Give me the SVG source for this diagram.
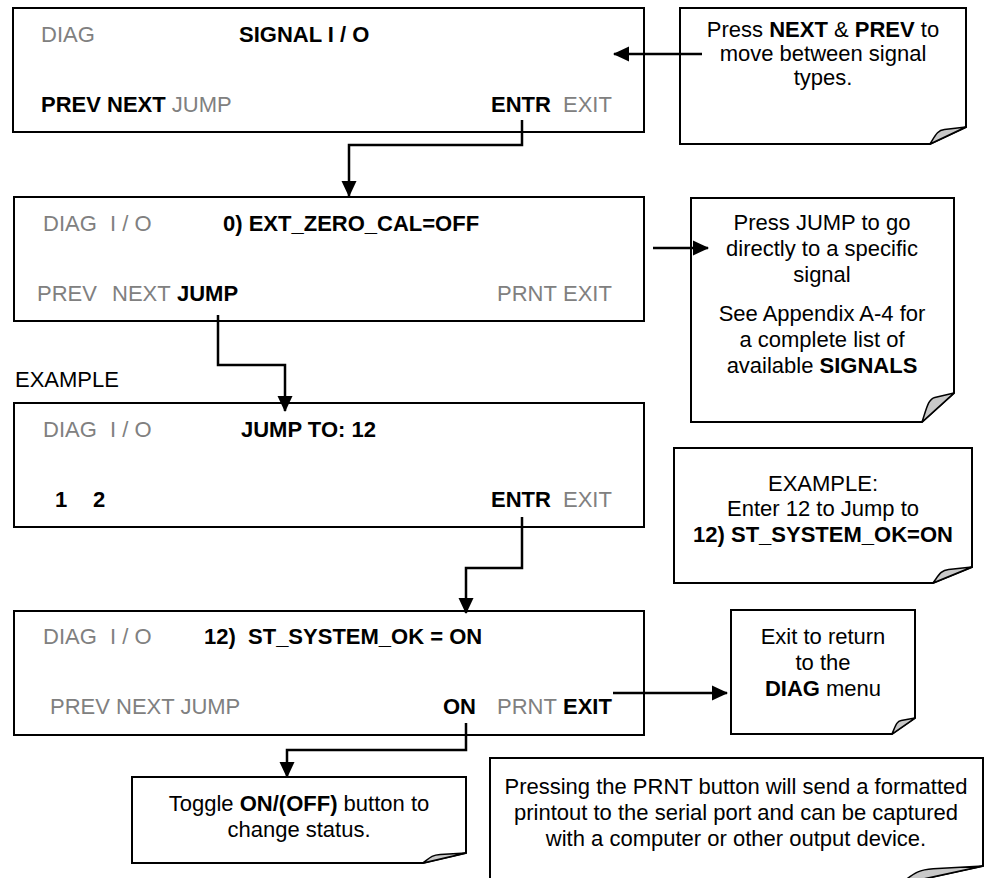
<svg xmlns="http://www.w3.org/2000/svg" width="985" height="878" viewBox="0 0 985 878">
<defs>
<style>
text{font-family:"Liberation Sans",Arial,sans-serif;font-size:22px;fill:#000;white-space:pre}
.g{fill:#808080}
.b{font-weight:bold}
.c{text-anchor:middle}
.box{fill:#fff;stroke:#000;stroke-width:2}
.note{fill:#fff;stroke:#000;stroke-width:2;stroke-linejoin:miter}
.fold{fill:#c8c8c8;stroke:#000;stroke-width:1.5;stroke-linejoin:round}
.conn{fill:none;stroke:#000;stroke-width:2.5}
</style>
<marker id="ah" markerUnits="userSpaceOnUse" markerWidth="16" markerHeight="16" viewBox="0 0 16 16" refX="15" refY="8" orient="auto">
<path d="M0,0.5 L16,8 L0,15.5 Z" fill="#000"/>
</marker>
</defs>
<rect width="985" height="878" fill="#fff"/>

<g id="screen1">
<rect class="box" x="13" y="8" width="631" height="124"/>
<text x="41" y="42" class="g">DIAG</text>
<text x="239" y="42" class="b">SIGNAL I / O</text>
<text x="41" y="112"><tspan class="b">PREV NEXT</tspan><tspan class="g"> JUMP</tspan></text>
<text x="491" y="112" class="b">ENTR</text>
<text x="563" y="112" class="g">EXIT</text>
</g>

<g id="screen2">
<rect class="box" x="14" y="197" width="630" height="124"/>
<text x="43" y="231" class="g">DIAG</text>
<text x="110" y="231" class="g">I / O</text>
<text x="223" y="231" class="b">0) EXT_ZERO_CAL=OFF</text>
<text x="37" y="301" class="g">PREV</text>
<text x="112" y="301" class="g">NEXT</text>
<text x="177" y="301" class="b">JUMP</text>
<text x="497" y="301" class="g">PRNT</text>
<text x="563" y="301" class="g">EXIT</text>
</g>

<g id="example-label">
<text x="15" y="387">EXAMPLE</text>
</g>

<g id="screen3">
<rect class="box" x="14" y="403" width="630" height="124"/>
<text x="43" y="437" class="g">DIAG</text>
<text x="110" y="437" class="g">I / O</text>
<text x="241" y="437" class="b">JUMP TO: 12</text>
<text x="55" y="507" class="b">1</text>
<text x="93" y="507" class="b">2</text>
<text x="491" y="507" class="b">ENTR</text>
<text x="563" y="507" class="g">EXIT</text>
</g>

<g id="screen4">
<rect class="box" x="14" y="611" width="630" height="124"/>
<text x="43" y="644" class="g">DIAG</text>
<text x="110" y="644" class="g">I / O</text>
<text x="204" y="644" class="b">12)  ST_SYSTEM_OK = ON</text>
<text x="50" y="714" class="g">PREV NEXT JUMP</text>
<text x="443" y="714" class="b">ON</text>
<text x="497" y="714" class="g">PRNT</text>
<text x="563" y="714" class="b">EXIT</text>
</g>

<g id="note-next-prev">
<path class="note" d="M680,8 H966 V127 L930,144 H680 Z"/>
<path class="fold" d="M930,144 C935.4,135.5 937.2,130.4 944.4,129.6 L966,127 Z"/>
<text x="823" y="37" class="c">Press <tspan class="b">NEXT</tspan> &amp; <tspan class="b">PREV</tspan> to</text>
<text x="823" y="61" class="c">move between signal</text>
<text x="823" y="85" class="c">types.</text>
</g>

<g id="note-jump">
<path class="note" d="M691,198 H954 V393 L922,422 H691 Z"/>
<path class="fold" d="M922,422 C926.8,407.5 928.4,398.8 934.8,397.4 L954,393 Z"/>
<text x="822" y="230" class="c">Press JUMP to go</text>
<text x="822" y="256" class="c">directly to a specific</text>
<text x="822" y="282" class="c">signal</text>
<text x="822" y="321" class="c">See Appendix A-4 for</text>
<text x="822" y="347" class="c">a complete list of</text>
<text x="822" y="373" class="c">available <tspan class="b">SIGNALS</tspan></text>
</g>

<g id="note-example">
<path class="note" d="M674,448 H972 V567 L933,583 H674 Z"/>
<path class="fold" d="M933,583 C938.9,575 940.8,570.2 948.6,569.4 L972,567 Z"/>
<text x="823" y="491" class="c">EXAMPLE:</text>
<text x="823" y="516" class="c">Enter 12 to Jump to</text>
<text x="823" y="542" class="c b">12) ST_SYSTEM_OK=ON</text>
</g>

<g id="note-exit">
<path class="note" d="M731,610 H915 V718 L892,734 H731 Z"/>
<path class="fold" d="M892,734 C895.5,726 896.6,721.2 901.2,720.4 L915,718 Z"/>
<text x="823" y="644" class="c">Exit to return</text>
<text x="823" y="670" class="c">to the</text>
<text x="823" y="696" class="c"><tspan class="b">DIAG</tspan> menu</text>
</g>

<g id="note-toggle">
<path class="note" d="M132,777 H466 V853 L423,863 H132 Z"/>
<path class="fold" d="M423,863 C429.5,858 431.6,855 440.2,854.5 L466,853 Z"/>
<text x="299" y="811" class="c">Toggle <tspan class="b">ON/(OFF)</tspan> button to</text>
<text x="299" y="837" class="c">change status.</text>
</g>

<g id="note-prnt">
<path class="note" d="M490,758 H983 V866 L900,884 H490 Z"/>
<path class="fold" d="M900,884 C912.5,875 916.6,869.6 933.2,868.7 L983,866 Z"/>
<text x="736" y="794" class="c">Pressing the PRNT button will send a formatted</text>
<text x="736" y="820" class="c">printout to the serial port and can be captured</text>
<text x="736" y="846" class="c">with a computer or other output device.</text>
</g>

<g id="connectors">
<path class="conn" d="M702,54 H614" marker-end="url(#ah)"/>
<path class="conn" d="M522,120 V145 H349 V196" marker-end="url(#ah)"/>
<path class="conn" d="M653,248 H708" marker-end="url(#ah)"/>
<path class="conn" d="M218,315 V365 H285 V411" marker-end="url(#ah)"/>
<path class="conn" d="M522,517 V568 H466 V613" marker-end="url(#ah)"/>
<path class="conn" d="M613,693 H727" marker-end="url(#ah)"/>
<path class="conn" d="M466,723 V750 H287 V777" marker-end="url(#ah)"/>
</g>
</svg>
